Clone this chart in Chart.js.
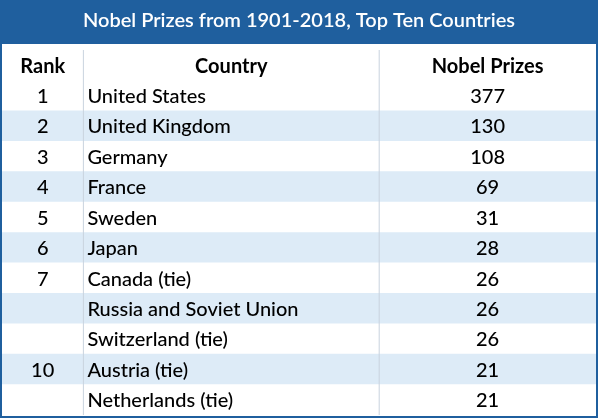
<!DOCTYPE html>
<html>
<head>
<meta charset="utf-8">
<script src="https://cdn.jsdelivr.net/npm/chart.js@4"></script>
<style>
  body { margin: 0; background: #fff; }
  #wrap { width: 598px; height: 418px; }
</style>
</head>
<body>
<div id="wrap"><canvas id="table"></canvas></div>
<script>
const titleText = 'Nobel Prizes from 1901-2018, Top Ten Countries'
const headers = ['Rank', 'Country', 'Nobel Prizes']
const ranks = ['1', '2', '3', '4', '5', '6', '7', '', '', '10', '']
const countries = ['United States', 'United Kingdom', 'Germany', 'France', 'Sweden', 'Japan',
  'Canada (tie)', 'Russia and Soviet Union', 'Switzerland (tie)', 'Austria (tie)', 'Netherlands (tie)']
const prizes = [377, 130, 108, 69, 31, 28, 26, 26, 26, 21, 21]

const rowLabels = ['header', ...countries]
const blue = '#1f5f9e'
const stripe = '#ddebf7'
const font = '"Gill Sans", Lato, "Open Sans", sans-serif'

const tablePlugin = {
  id: 'tablePlugin',
  beforeDraw(chart) {
    const { ctx, width, chartArea } = chart
    ctx.save()
    ctx.fillStyle = blue
    ctx.fillRect(0, 0, width, chartArea.top - 6)
    ctx.restore()
  },
  afterDatasetsDraw(chart) {
    const { ctx, chartArea, scales } = chart
    const y = scales.y
    const x = scales.x
    const col1 = x.getPixelForValue(0.137)
    const col2 = x.getPixelForValue(0.635)
    ctx.save()
    ctx.strokeStyle = '#c9d3de'
    ctx.lineWidth = 1
    ctx.beginPath()
    ctx.moveTo(col1, chartArea.top); ctx.lineTo(col1, chartArea.bottom)
    ctx.moveTo(col2, chartArea.top); ctx.lineTo(col2, chartArea.bottom)
    ctx.stroke()

    ctx.fillStyle = '#000'
    ctx.textBaseline = 'middle'
    rowLabels.forEach((label, i) => {
      const py = y.getPixelForValue(i) + 1
      const isHeader = i === 0
      ctx.font = (isHeader ? 'bold ' : '500 ') + '20px ' + font
      const cells = isHeader ? headers : [ranks[i - 1], countries[i - 1], String(prizes[i - 1])]
      ctx.textAlign = 'center'
      ctx.fillText(cells[0], (chartArea.left + col1) / 2, py)
      ctx.textAlign = isHeader ? 'center' : 'left'
      ctx.fillText(cells[1], isHeader ? (col1 + col2) / 2 : col1 + 4, py)
      ctx.textAlign = 'center'
      ctx.fillText(cells[2], (col2 + chartArea.right) / 2, py)
    })

    ctx.strokeStyle = blue
    ctx.lineWidth = 2
    ctx.strokeRect(1, 1, chart.width - 2, chart.height - 2)
    ctx.restore()
  },
}

new Chart(document.getElementById('table'), {
  type: 'bar',
  data: {
    labels: rowLabels,
    datasets: [{
      data: rowLabels.map(() => 1),
      backgroundColor: rowLabels.map((_, i) => (i > 0 && i % 2 === 0 ? stripe : '#ffffff')),
      barPercentage: 1,
      categoryPercentage: 1,
      borderWidth: 0,
    }],
  },
  options: {
    indexAxis: 'y',
    responsive: true,
    maintainAspectRatio: false,
    animation: false,
    layout: { padding: { left: 2, right: 2, bottom: 3, top: 0 } },
    plugins: {
      legend: { display: false },
      tooltip: { enabled: false },
      title: {
        display: true,
        text: titleText,
        color: '#ffffff',
        font: { size: 20, family: font, weight: '600' },
        padding: { top: 9, bottom: 17 },
      },
    },
    scales: {
      x: { display: false, min: 0, max: 1 },
      y: { display: false },
    },
  },
  plugins: [tablePlugin],
})
</script>
</body>
</html>
